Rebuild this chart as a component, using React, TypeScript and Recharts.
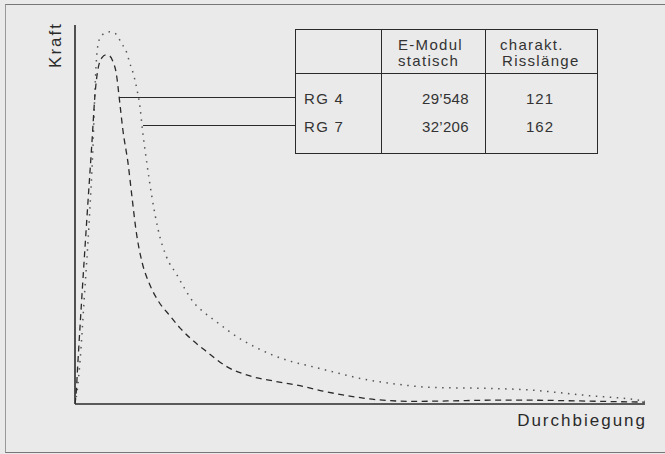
import { LineChart, Line, XAxis, YAxis, ReferenceLine } from 'recharts';

// Kraft-Durchbiegungs-Kurven (x: Durchbiegung, y: Kraft, relative Einheiten)
const rg4Durchbiegung = [0, 0.2, 0.5, 1.2, 2.1, 3.0, 3.5, 4.0, 4.7, 5.4, 6.1, 6.7, 7.2, 7.9, 8.4, 9.3, 10.0, 10.7, 11.8, 13.0, 14.6, 16.7, 18.4, 20.2, 23.2, 26.7, 30.7, 34.7, 38.9, 43.5, 48.2, 54.0, 59.3, 65.3, 72.8, 79.8, 88.6, 95.6, 100];
const rg4Kraft = [0, 2.9, 10.8, 28.2, 49.3, 69.7, 81.5, 88.1, 91.3, 92.1, 91.8, 90.2, 87.6, 78.9, 72.3, 63.6, 54.6, 45.9, 37.2, 31.9, 27.2, 23.2, 20.1, 17.4, 13.7, 9.8, 7.4, 6.1, 5.0, 3.4, 2.1, 1.0, 0.7, 0.8, 1.0, 1.0, 0.8, 0.6, 0.5];

const rg7Durchbiegung = [0, 0.4, 0.9, 1.6, 2.5, 3.2, 3.5, 3.9, 4.4, 5.3, 6.1, 7.2, 8.1, 9.1, 9.6, 10.2, 10.9, 11.4, 11.8, 12.6, 13.5, 14.6, 16.0, 17.9, 19.3, 20.7, 22.8, 24.9, 27.2, 29.3, 31.9, 34.7, 38.2, 41.8, 46.0, 50.5, 56.1, 62.3, 69.3, 72.8, 79.8, 85.6, 90.9, 95.6, 100];
const rg7Kraft = [0, 3.7, 11.6, 27.4, 48.5, 69.7, 82.8, 93.4, 96.6, 97.9, 98.2, 97.6, 95.3, 92.6, 90.0, 87.3, 82.8, 78.4, 72.8, 63.6, 54.6, 45.9, 39.0, 34.0, 30.3, 27.0, 24.0, 21.6, 19.0, 16.9, 14.8, 12.9, 11.1, 9.8, 8.2, 6.6, 5.3, 4.4, 4.2, 4.1, 3.7, 2.9, 2.1, 1.6, 0.8];

const proben = ['RG 4', 'RG 7'];
const eModul = ['29’548', '32’206'];
const risslaenge = ['121', '162'];

const rg4 = rg4Durchbiegung.map((x, i) => ({ x, y: rg4Kraft[i] }));
const rg7 = rg7Durchbiegung.map((x, i) => ({ x, y: rg7Kraft[i] }));

const ink = '#2a2a2a';
const font = '"Liberation Sans", Arial, sans-serif';

const txt = (left: number, top: number, s: string, ls = 1.3) => (
    <div style={{ position: 'absolute', left, top, fontSize: 15, letterSpacing: ls, lineHeight: '15px', color: '#333', whiteSpace: 'nowrap' }}>{s}</div>
);

export default function App() {
    return (
        <div style={{ position: 'fixed', left: 0, top: 0, width: 665, height: 454, background: '#eaeaea', fontFamily: font, overflow: 'hidden' }}>
            {/* Rahmen */}
            <div style={{ position: 'absolute', left: 5, top: 4, width: 665, height: 447, borderTop: '1.5px solid #777', borderLeft: '1px solid #999', borderBottom: '1.5px solid #777' }} />

            <LineChart width={665} height={454} margin={{ left: 75, right: 20, top: 25, bottom: 50 }} style={{ position: 'absolute', left: 0, top: 0 }}>
                <XAxis type="number" dataKey="x" domain={[0, 100]} hide allowDataOverflow />
                <YAxis type="number" dataKey="y" domain={[0, 100]} hide allowDataOverflow />
                <ReferenceLine y={0} stroke={ink} strokeWidth={1.6} />
                <ReferenceLine x={0} stroke={ink} strokeWidth={1.6} />
                <Line data={rg7} dataKey="y" type="monotone" stroke="#555" strokeWidth={1.5} strokeDasharray="1.5 5.5" dot={false} isAnimationActive={false} />
                <Line data={rg4} dataKey="y" type="monotone" stroke={ink} strokeWidth={1.3} strokeDasharray="6 4.5" dot={false} isAnimationActive={false} />
            </LineChart>

            {/* Achsenbeschriftungen */}
            <div style={{ position: 'absolute', left: 56, top: 45, transform: 'translate(-50%, -50%) rotate(-90deg)', fontSize: 17, letterSpacing: 2, color: ink, whiteSpace: 'nowrap' }}>Kraft</div>
            <div style={{ position: 'absolute', right: 18, top: 411, fontSize: 17, letterSpacing: 2, color: ink, whiteSpace: 'nowrap' }}>Durchbiegung</div>

            {/* Verbindungslinien zur Tabelle */}
            <div style={{ position: 'absolute', left: 119, top: 97, width: 176, borderTop: `1.2px solid ${ink}` }} />
            <div style={{ position: 'absolute', left: 143, top: 125, width: 152, borderTop: `1.2px solid ${ink}` }} />

            {/* Tabelle */}
            <div style={{ position: 'absolute', left: 295, top: 29, width: 301, height: 123, border: `1.3px solid ${ink}` }} />
            <div style={{ position: 'absolute', left: 381, top: 29, height: 124, borderLeft: `1.3px solid ${ink}` }} />
            <div style={{ position: 'absolute', left: 485, top: 29, height: 124, borderLeft: `1.3px solid ${ink}` }} />
            <div style={{ position: 'absolute', left: 295, top: 73, width: 302, borderTop: `1.3px solid ${ink}` }} />
            {txt(398, 37, 'E-Modul')}
            {txt(398, 53, 'statisch')}
            {txt(500, 37, 'charakt.')}
            {txt(502, 53, 'Risslänge')}
            {proben.map((p, i) => (
                <div key={p}>
                    {txt(304, 91 + i * 28, p)}
                    {txt(422, 91 + i * 28, eModul[i], 0.3)}
                    {txt(526, 91 + i * 28, risslaenge[i], 1)}
                </div>
            ))}
        </div>
    );
}
